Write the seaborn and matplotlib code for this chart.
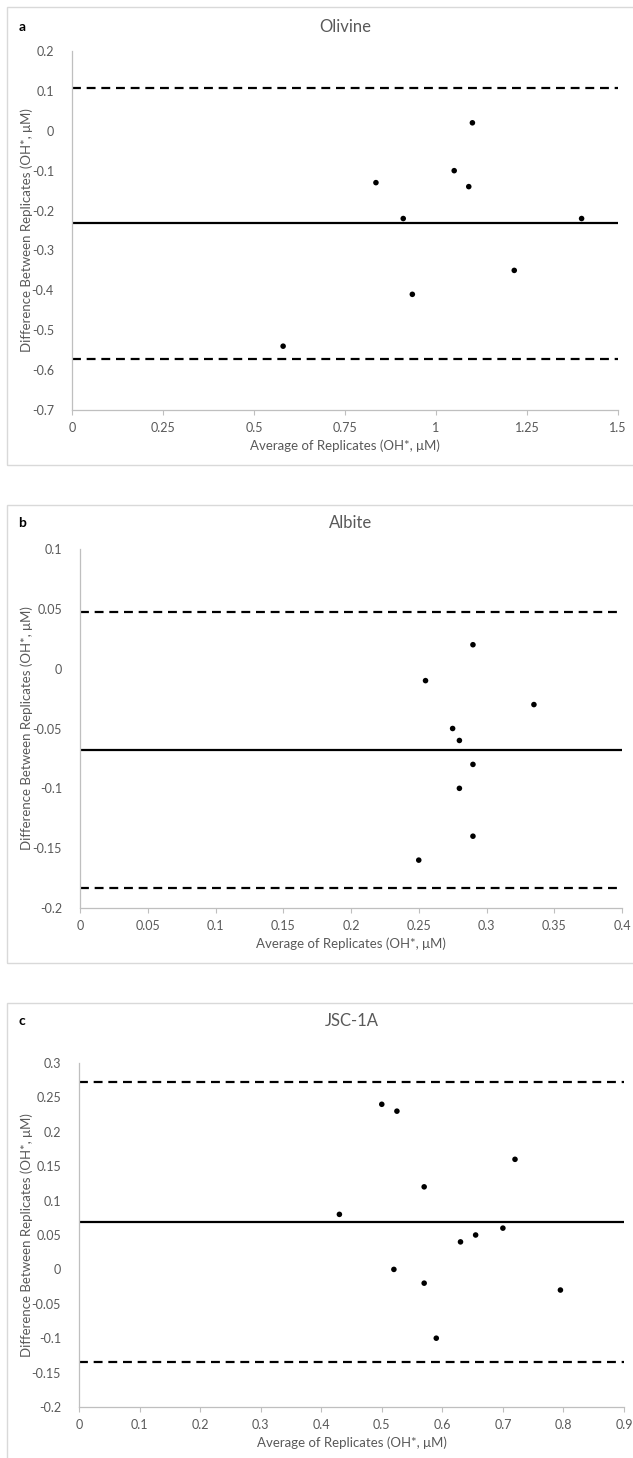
import numpy as np
import pandas as pd
import matplotlib
matplotlib.use("Agg")
import matplotlib.pyplot as plt
from matplotlib.patches import Rectangle
from matplotlib.ticker import FuncFormatter
import seaborn as sns

# dados (media vs diferenca entre replicas)
olivine_avg = [0.58, 0.835, 0.91, 0.935, 1.05, 1.09, 1.10, 1.215, 1.40]
olivine_diff = [-0.54, -0.13, -0.22, -0.41, -0.10, -0.14, 0.02, -0.35, -0.22]

albite_avg = [0.25, 0.255, 0.275, 0.28, 0.28, 0.29, 0.29, 0.29, 0.335]
albite_diff = [-0.16, -0.01, -0.05, -0.06, -0.10, 0.02, -0.08, -0.14, -0.03]

jsc_avg = [0.43, 0.50, 0.525, 0.52, 0.57, 0.57, 0.59, 0.63, 0.655, 0.70, 0.72, 0.795]
jsc_diff = [0.08, 0.24, 0.23, 0.00, 0.12, -0.02, -0.10, 0.04, 0.05, 0.06, 0.16, -0.03]

# linhas: media e limites de concordancia
olivine_lines = [-0.232, 0.108, -0.572]
albite_lines = [-0.068, 0.047, -0.183]
jsc_lines = [0.069, 0.273, -0.134]

titulos = ["Olivine", "Albite", "JSC-1A"]
letras = ["a", "b", "c"]
xlims = [(0, 1.5), (0, 0.4), (0, 0.9)]
xsteps = [0.25, 0.05, 0.1]
ylims = [(-0.7, 0.2), (-0.2, 0.1), (-0.2, 0.3)]
ysteps = [0.1, 0.05, 0.05]

sns.set_theme(style="white")
plt.rcParams['font.family'] = ['Lato', 'DejaVu Sans']

W, H = 633, 1458
fig = plt.figure(figsize=(W / 100, H / 100), dpi=100)

# posicoes em pixels: (esq, dir, topo, base) dos eixos e (topo, base) da caixa
eixos_px = [(72, 618, 51, 410), (80, 622, 549, 908), (79, 624, 1063, 1407)]
caixas_px = [(7, 465), (505, 963), (1003, 1470)]
titulo_y = [27, 523, 1021]

cinza = "#595959"
dados = [(olivine_avg, olivine_diff, olivine_lines),
         (albite_avg, albite_diff, albite_lines),
         (jsc_avg, jsc_diff, jsc_lines)]


def fmt(v, pos):
    v = round(v, 4)
    if v == 0:
        return "0"
    return f"{v:g}"


for i in range(3):
    topo_c, base_c = caixas_px[i]
    fig.patches.append(Rectangle((7 / W, 1 - base_c / H), (W + 20) / W, (base_c - topo_c) / H,
                                 transform=fig.transFigure, fill=False,
                                 edgecolor="#d9d9d9", linewidth=1.0))

    esq, dir_, topo, base = eixos_px[i]
    ax = fig.add_axes([esq / W, 1 - base / H, (dir_ - esq) / W, (base - topo) / H])

    media, dif, linhas = dados[i]
    df = pd.DataFrame({"media": media, "dif": dif})
    sns.scatterplot(data=df, x="media", y="dif", ax=ax, color="black",
                    s=16, edgecolor="none", zorder=3)

    ax.axhline(linhas[0], color="black", linewidth=1.6, zorder=2)
    ax.axhline(linhas[1], color="black", linewidth=1.6, dashes=(4, 2.6), zorder=2)
    ax.axhline(linhas[2], color="black", linewidth=1.6, dashes=(4, 2.6), zorder=2)

    ax.set_xlim(*xlims[i])
    ax.set_ylim(*ylims[i])
    ax.set_xticks(np.round(np.arange(xlims[i][0], xlims[i][1] + 1e-9, xsteps[i]), 4))
    ax.set_yticks(np.round(np.arange(ylims[i][0], ylims[i][1] + 1e-9, ysteps[i]), 4))
    ax.xaxis.set_major_formatter(FuncFormatter(fmt))
    ax.yaxis.set_major_formatter(FuncFormatter(fmt))

    for lado in ["top", "right"]:
        ax.spines[lado].set_visible(False)
    for lado in ["left", "bottom"]:
        ax.spines[lado].set_color("#bfbfbf")
        ax.spines[lado].set_linewidth(0.9)

    ax.tick_params(axis="x", bottom=True, length=3.5, width=0.8, color="#bfbfbf",
                   labelsize=9, labelcolor=cinza, pad=5)
    ax.tick_params(axis="y", left=False, labelsize=9, labelcolor=cinza, pad=7)

    ax.set_xlabel("Average of Replicates (OH*, \u03bcM)", fontsize=9.5, color=cinza)
    ax.set_ylabel("Difference Between Replicates (OH*, \u03bcM)", fontsize=9.5, color=cinza)
    ax.yaxis.set_label_coords((27 - esq) / (dir_ - esq), 0.5)
    ax.xaxis.set_label_coords(0.5, -36 / (base - topo))
    ax.xaxis.label.set_verticalalignment("center")
    ax.yaxis.label.set_verticalalignment("center")

    fig.text(((esq + dir_) / 2) / W, 1 - titulo_y[i] / H, titulos[i], fontsize=12,
             color=cinza, ha="center", va="center")
    fig.text(22 / W, 1 - titulo_y[i] / H, letras[i], fontsize=10, fontweight="bold",
             color="black", ha="center", va="center")

fig.savefig("out.png", dpi=100)
